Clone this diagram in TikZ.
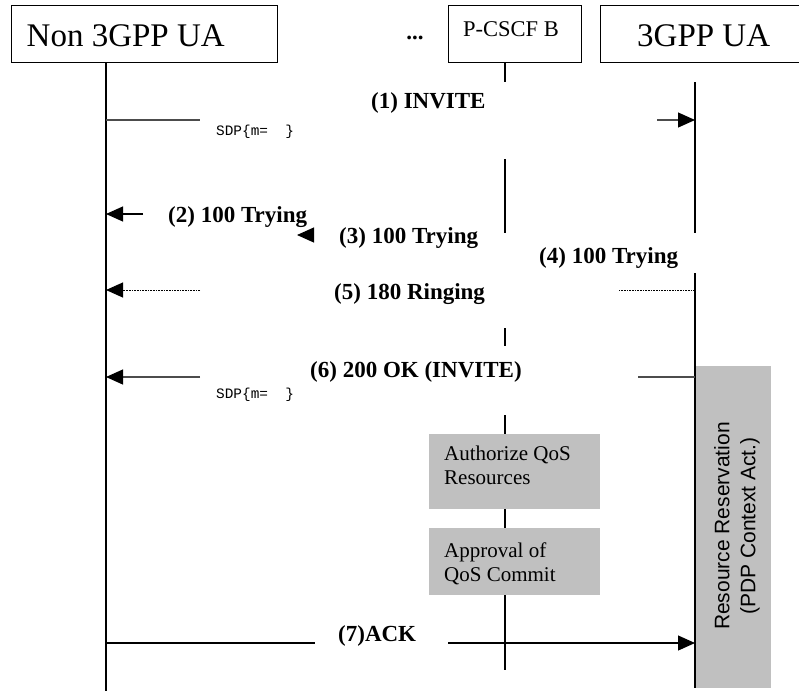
\documentclass[tikz,border=0pt]{standalone}
\usepackage{fontspec}
\setmainfont{Liberation Serif}
\newfontfamily\arialf{Liberation Sans}
\newfontfamily\courf{Liberation Mono}
\usetikzlibrary{arrows.meta}
\definecolor{boxgray}{HTML}{C0C0C0}
\tikzset{
  hdrbox/.style={draw=black, line width=1.3pt, anchor=north west, inner sep=0pt},
  life/.style={draw=black, line width=1.5pt},
  msg/.style={draw=black!70, line width=1.1pt},
  msgb/.style={draw=black, line width=1.1pt},
  dotline/.style={draw=black, line width=1pt, dash pattern=on 0.8pt off 0.8pt},
  tip/.style={-{Triangle[length=17pt,width=15pt,color=black]}},
  lbl/.style={anchor=base west, inner sep=0pt, font=\fontsize{23}{26}\selectfont\bfseries},
  sdp/.style={anchor=base west, inner sep=0pt, font=\fontsize{14.4}{16}\selectfont\courf},
  boxtxt/.style={anchor=base west, inner sep=0pt, font=\fontsize{21}{24}\selectfont},
  gbox/.style={fill=boxgray, draw=none, anchor=north west, inner sep=0pt},
}
\begin{document}
\begin{tikzpicture}[x=1pt,y=-1pt]
\useasboundingbox (0,0) rectangle (799,691);

% header boxes
\node[hdrbox, minimum width=266pt, minimum height=57pt] (uaA) at (11,5) {};
\node[anchor=base west, inner sep=0pt, font=\fontsize{33}{36}\selectfont] (uaAt) at (26.5,46) {Non 3GPP UA};
\node[anchor=base, inner sep=0pt, font=\fontsize{23}{26}\selectfont\bfseries] (dots) at (415,39) {...};
\node[hdrbox, minimum width=133pt, minimum height=57pt] (pcscf) at (448,5) {};
\node[anchor=base, inner sep=0pt, font=\fontsize{22.5}{25}\selectfont] (pcscft) at (511,36) {P-CSCF B};
\node[hdrbox, minimum width=215pt, minimum height=57pt] (uaC) at (600,5) {};
\node[anchor=base west, inner sep=0pt, font=\fontsize{33}{36}\selectfont] (uaCt) at (637,46) {3GPP UA};

% lifelines
\coordinate (A0) at (106,62);  \coordinate (A9) at (106,691);
\draw[life] (A0) -- (A9);
\coordinate (B0) at (505,62);  \coordinate (B1) at (505,82);
\coordinate (B2) at (505,159); \coordinate (B3) at (505,233);
\coordinate (B4) at (505,328); \coordinate (B5) at (505,346);
\coordinate (B6) at (505,415); \coordinate (B7) at (505,670);
\draw[life] (B0) -- (B1);
\draw[life] (B2) -- (B3);
\draw[life] (B4) -- (B5);
\draw[life] (B6) -- (B7);

% gray boxes
\node[gbox, minimum width=171pt, minimum height=75pt] (auth) at (429,434) {};
\node[boxtxt] (auth1) at (444,460) {Authorize QoS};
\node[boxtxt] (auth2) at (444,484) {Resources};
\node[gbox, minimum width=171pt, minimum height=67pt] (appr) at (429,528) {};
\node[boxtxt] (appr1) at (444,557) {Approval of};
\node[boxtxt] (appr2) at (444,581) {QoS Commit};
\node[gbox, minimum width=76pt, minimum height=322pt] (resv) at (695,366) {};
\node[rotate=90, align=center, inner sep=0pt, font=\fontsize{21}{26}\selectfont\arialf] (resvt) at (737,526) {Resource Reservation\\(PDP Context Act.)};

\coordinate (C0) at (695,82);  \coordinate (C1) at (695,233);
\coordinate (C2) at (695,273); \coordinate (C3) at (695,688);
\draw[life] (C0) -- (C1);
\draw[life] (C2) -- (C3);

% (1) INVITE
\coordinate (m1a) at (106,120); \coordinate (m1b) at (200,120);
\coordinate (m1c) at (657,120); \coordinate (m1d) at (695,120);
\draw[msg] (m1a) -- (m1b);
\draw[msg, tip] (m1c) -- (m1d);
\node[sdp] (sdp1) at (216,135) {SDP\{m=\ \ \}};
\node[lbl] (l1) at (371,108) {(1) INVITE};

% (2) 100 Trying
\coordinate (m2a) at (143,214); \coordinate (m2b) at (106,214);
\draw[msgb, tip] (m2a) -- (m2b);
\node[lbl] (l2) at (168,222) {(2) 100 Trying};

% (3) 100 Trying (only arrowhead visible)
\coordinate (m3a) at (313,235); \coordinate (m3b) at (297,235);
\draw[msgb, tip] (m3a) -- (m3b);
\node[lbl] (l3) at (339,243) {(3) 100 Trying};

% (4) 100 Trying
\node[lbl] (l4) at (539,263) {(4) 100 Trying};

% (5) 180 Ringing
\coordinate (m5a) at (200,290); \coordinate (m5b) at (106,290);
\coordinate (m5c) at (695,290); \coordinate (m5d) at (619,290);
\draw[dotline, tip] (m5a) -- (m5b);
\draw[dotline] (m5c) -- (m5d);
\node[lbl] (l5) at (334,299) {(5) 180 Ringing};

% (6) 200 OK
\coordinate (m6a) at (200,377); \coordinate (m6b) at (106,377);
\coordinate (m6c) at (695,377); \coordinate (m6d) at (638,377);
\draw[msg, tip] (m6a) -- (m6b);
\draw[msg] (m6c) -- (m6d);
\node[sdp] (sdp2) at (216,398) {SDP\{m=\ \ \}};
\node[lbl] (l6) at (310,377) {(6) 200 OK (INVITE)};

% (7) ACK
\coordinate (m7a) at (106,643); \coordinate (m7b) at (315,643);
\coordinate (m7c) at (448,643); \coordinate (m7d) at (695,643);
\draw[msgb] (m7a) -- (m7b);
\draw[msgb, tip] (m7c) -- (m7d);
\node[lbl] (l7) at (338,641) {(7)ACK};
\end{tikzpicture}
\end{document}
